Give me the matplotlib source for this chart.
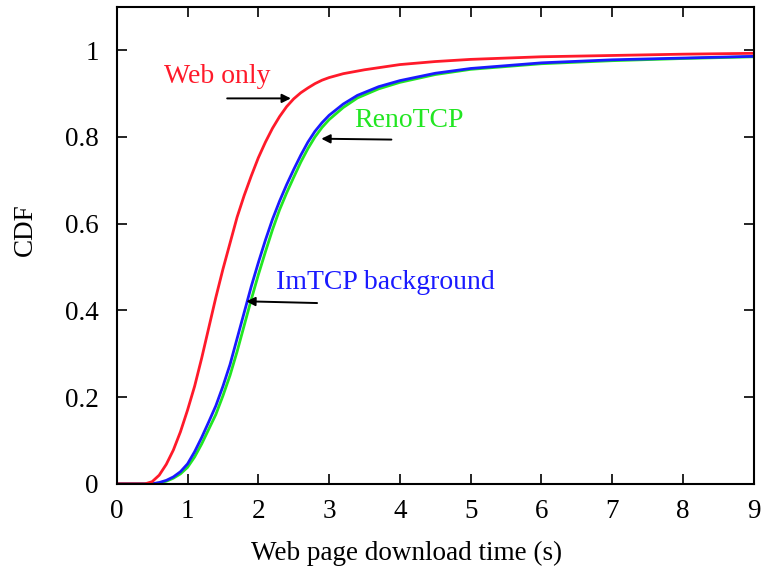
import matplotlib
matplotlib.use("Agg")
import matplotlib.pyplot as plt

plt.rcParams['font.family'] = ['Liberation Serif', 'DejaVu Serif']

# download time (s) vs CDF for each scenario
web_t = [0, 0.4, 0.5, 0.6, 0.7, 0.8, 0.9, 1.0, 1.1, 1.2, 1.3, 1.4, 1.5, 1.6, 1.7, 1.8, 1.9, 2.0,
         2.1, 2.2, 2.3, 2.4, 2.5, 2.6, 2.7, 2.8, 2.9, 3.0, 3.2, 3.5, 4.0, 4.5, 5.0, 6.0, 7.0, 8.0, 9.0]
web_cdf = [0, 0, 0.005, 0.02, 0.045, 0.078, 0.12, 0.17, 0.225, 0.29, 0.36, 0.43, 0.495, 0.555, 0.615, 0.665, 0.71, 0.752,
           0.788, 0.82, 0.847, 0.87, 0.888, 0.902, 0.913, 0.923, 0.931, 0.937, 0.946, 0.955, 0.967, 0.974, 0.979, 0.985, 0.988, 0.991, 0.993]

tcp_t = [0, 0.5, 0.6, 0.7, 0.8, 0.9, 1.0, 1.1, 1.2, 1.3, 1.4, 1.5, 1.6, 1.7, 1.8, 1.9, 2.0, 2.1, 2.2,
         2.3, 2.4, 2.5, 2.6, 2.7, 2.8, 2.9, 3.0, 3.2, 3.4, 3.7, 4.0, 4.5, 5.0, 6.0, 7.0, 8.0, 9.0]
imtcp_cdf = [0, 0, 0.003, 0.008, 0.016, 0.028, 0.046, 0.074, 0.107, 0.143, 0.18, 0.225, 0.275, 0.335, 0.395, 0.455, 0.51, 0.562, 0.61,
             0.652, 0.69, 0.725, 0.758, 0.788, 0.813, 0.833, 0.85, 0.876, 0.896, 0.916, 0.93, 0.947, 0.958, 0.971, 0.978, 0.982, 0.986]
reno_cdf = [0, 0, 0.002, 0.006, 0.013, 0.023, 0.038, 0.062, 0.092, 0.126, 0.16, 0.203, 0.25, 0.305, 0.365, 0.425, 0.482, 0.535, 0.586,
            0.632, 0.671, 0.707, 0.742, 0.773, 0.8, 0.822, 0.84, 0.868, 0.89, 0.911, 0.926, 0.944, 0.956, 0.969, 0.976, 0.981, 0.985]

RED, GREEN, BLUE = '#ff1a2a', '#22e622', '#1a1aff'

fig = plt.figure(figsize=(7.63, 5.76), dpi=100)
ax = fig.add_axes([0.153, 0.160, 0.835, 0.828])

ax.plot(tcp_t, reno_cdf, color=GREEN, lw=2.0)
ax.plot(tcp_t, imtcp_cdf, color=BLUE, lw=2.0)
ax.plot(web_t, web_cdf, color=RED, lw=2.0)

ax.set_xlim(0, 9)
ax.set_ylim(0, 1.1)
ax.set_xticks(range(0, 10))
ax.set_yticks([0, 0.2, 0.4, 0.6, 0.8, 1])
ax.set_yticklabels(['0', '0.2', '0.4', '0.6', '0.8', '1'])
ax.tick_params(direction='in', top=True, right=True, length=7, width=1.2, labelsize=19.5)
ax.tick_params(axis='y', pad=13)
ax.tick_params(axis='x', pad=11)
for s in ax.spines.values():
    s.set_linewidth(1.5)

ax.set_xlabel('Web page download time (s)', fontsize=19.5)
ax.xaxis.set_label_coords(0.455, -0.145)
ax.xaxis.label.set_verticalalignment('center')
ax.set_ylabel('CDF', fontsize=19.5)
ax.yaxis.set_label_coords(-0.144, 0.532)
ax.yaxis.label.set_verticalalignment('center')

arrow = dict(arrowstyle='-|>', color='black', lw=1.4, mutation_scale=13, shrinkA=0, shrinkB=0)
ax.annotate('', xy=(2.46, 0.889), xytext=(1.56, 0.889), arrowprops=arrow)
ax.annotate('', xy=(2.89, 0.796), xytext=(3.88, 0.794), arrowprops=arrow)
ax.annotate('', xy=(1.83, 0.421), xytext=(2.83, 0.417), arrowprops=arrow)

ax.text(0.665, 0.94, 'Web only', color=RED, fontsize=20, va='center')
ax.text(3.35, 0.838, 'RenoTCP', color=GREEN, fontsize=20, va='center')
ax.text(2.25, 0.465, 'ImTCP background', color=BLUE, fontsize=20, va='center')

fig.savefig('out.png', dpi=100)
